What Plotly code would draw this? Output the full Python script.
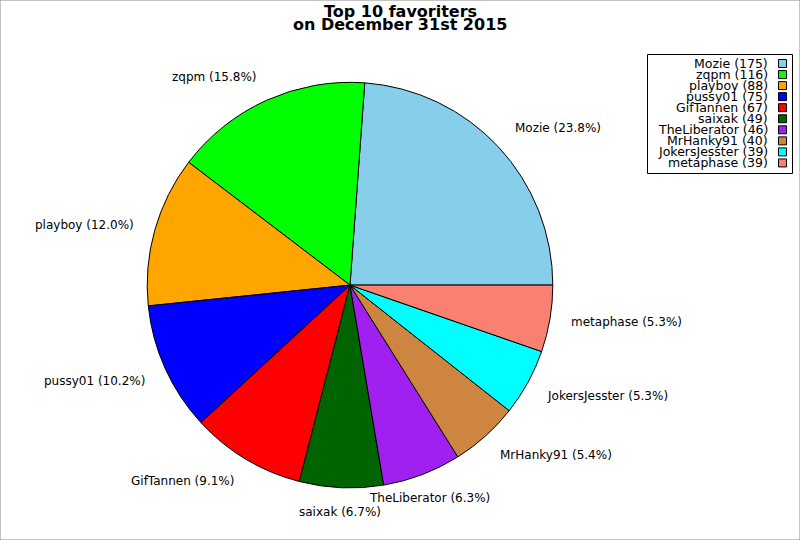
import math
import plotly.graph_objects as go

names = ["Mozie", "zqpm", "playboy", "pussy01", "GifTannen", "saixak",
         "TheLiberator", "MrHanky91", "JokersJesster", "metaphase"]
counts = [175, 116, 88, 75, 67, 49, 46, 40, 39, 39]
colors = ["#87CEEB", "#00FF00", "#FFA500", "#0000FF", "#FF0000", "#006400",
          "#A020F0", "#CD853F", "#00FFFF", "#FA8072"]
title_lines = ["Top 10 favoriters", "on December 31st 2015"]

W, H = 800, 540
dom_x = [0.184, 0.691]
dom_y = [0.096, 0.848]

total = sum(counts)
slice_text = ["%s (%.1f%%)" % (n, 100.0 * c / total) for n, c in zip(names, counts)]

# plotly's ccw pies end the first slice at `rotation`; we want it to start at 3 o'clock
rot = 90 - 360.0 * counts[0] / total

fig = go.Figure(go.Pie(
    labels=names, values=counts, textinfo="none",
    marker=dict(colors=colors, line=dict(color="black", width=1)),
    sort=False, direction="counterclockwise", rotation=rot,
    domain=dict(x=dom_x, y=dom_y),
    showlegend=False, automargin=False, hoverinfo="label+value+percent",
))

annots = []

# slice labels placed at 1.1 x radius, aligned by octant like the original
cx = (dom_x[0] + dom_x[1]) / 2 * W
cy = (1 - (dom_y[0] + dom_y[1]) / 2) * H
rad = (dom_y[1] - dom_y[0]) * H / 2
cum = 0
lim = math.sin(math.radians(22.5))
for t, c in zip(slice_text, counts):
    mid = math.radians(360.0 * (cum + c / 2) / total)
    cum += c
    cs, sn = math.cos(mid), math.sin(mid)
    px = cx + 1.1 * rad * cs
    py = cy - 1.1 * rad * sn
    xa = "left" if cs > lim else ("right" if cs < -lim else "center")
    ys = -5 if sn > lim else (4 if sn < -lim else 0)
    annots.append(dict(text=t, x=px / W, y=1 - (py + ys) / H,
                       xref="paper", yref="paper", xanchor=xa, yanchor="middle",
                       showarrow=False, borderpad=0,
                       font=dict(family="DejaVu Sans", size=12, color="black")))

# legend box drawn by hand: text right aligned, colour square on the right
shapes = [dict(type="rect", xref="paper", yref="paper",
               x0=647.5 / W, x1=792.5 / W, y0=1 - 173.5 / H, y1=1 - 54.5 / H,
               line=dict(color="black", width=1), fillcolor="white")]
row_h = 11.05
for i, (n, c, col) in enumerate(zip(names, counts, colors)):
    yc = 63.5 + i * row_h
    annots.append(dict(text="%s (%d)" % (n, c), x=769 / W, y=1 - yc / H,
                       xref="paper", yref="paper", xanchor="right", yanchor="middle",
                       showarrow=False, borderpad=0,
                       font=dict(family="DejaVu Sans", size=12.5, color="black")))
    shapes.append(dict(type="rect", xref="paper", yref="paper",
                       x0=778.5 / W, x1=786.5 / W,
                       y0=1 - (yc + 4) / H, y1=1 - (yc - 4) / H,
                       line=dict(color="black", width=1), fillcolor=col))

# two-line bold title, tighter than plotly's own line spacing
for i, t in enumerate(title_lines):
    annots.append(dict(text="<b>%s</b>" % t, x=0.5, y=1 - (11 + 13.5 * i) / H,
                       xref="paper", yref="paper", xanchor="center", yanchor="middle",
                       showarrow=False,
                       font=dict(family="DejaVu Sans", size=16, color="black")))

# outer border
shapes.append(dict(type="rect", xref="paper", yref="paper", x0=0, x1=1, y0=0, y1=1,
                   line=dict(color="#888888", width=1)))

fig.update_layout(
    width=W, height=H,
    margin=dict(l=0, r=0, t=0, b=0),
    paper_bgcolor="white", plot_bgcolor="white",
    annotations=annots, shapes=shapes,
)

fig.write_html("out.html", config={"displayModeBar": False},
               post_script="document.body.style.margin='0';document.body.style.overflow='hidden';")
